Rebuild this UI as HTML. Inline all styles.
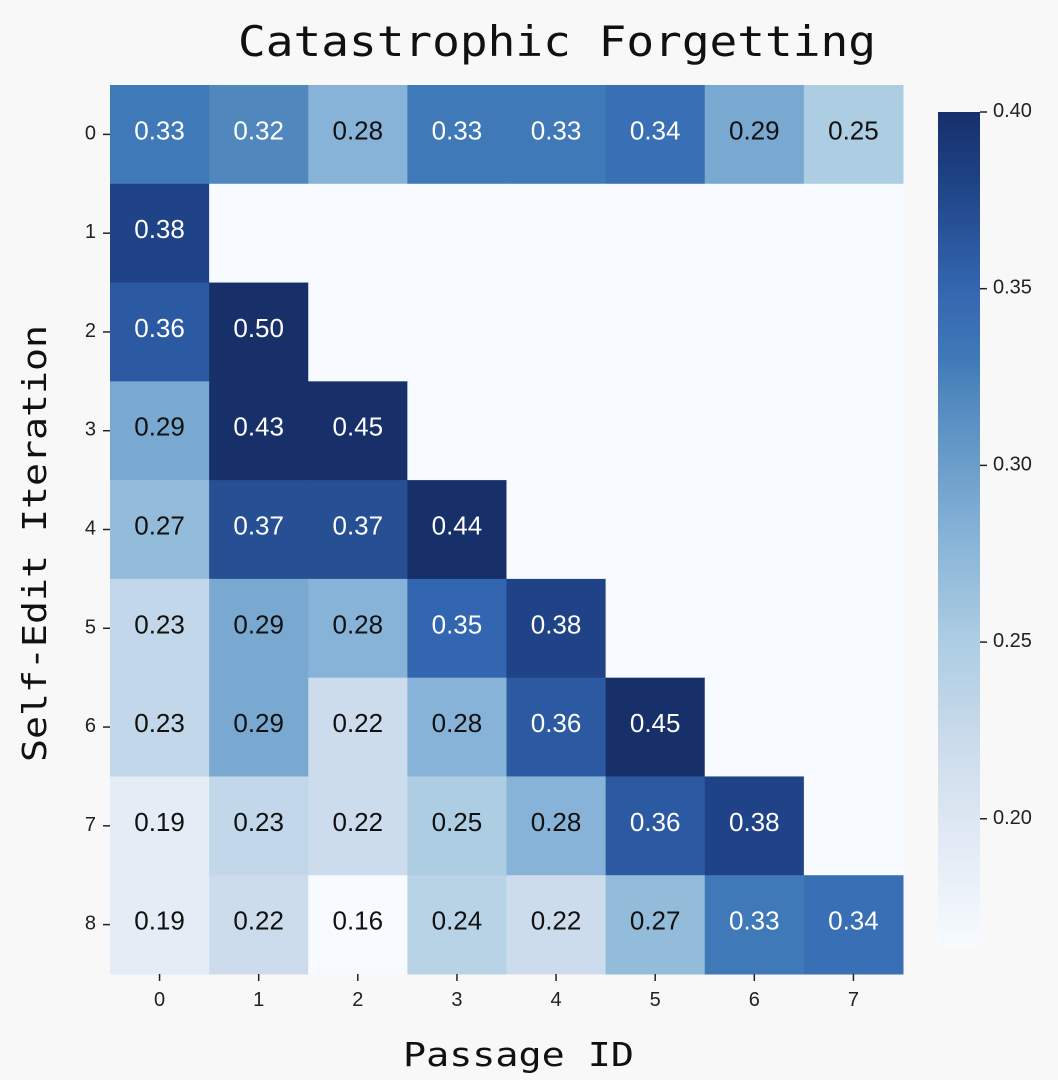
<!DOCTYPE html>
<html><head><meta charset="utf-8">
<style>
body{margin:0;background:#f8f8f8;}
svg{display:block;font-family:"Liberation Sans","DejaVu Sans",sans-serif;}
</style></head><body>
<svg id="chart" width="1058" height="1080">
<defs><linearGradient id="cbg" x1="0" y1="1" x2="0" y2="0"></linearGradient></defs>
<text x="238" y="56" textLength="638" lengthAdjust="spacingAndGlyphs" font-family="'DejaVu Sans Mono','Liberation Mono',monospace" font-size="42" fill="#111">Catastrophic Forgetting</text>
<text x="403" y="1066" textLength="231" lengthAdjust="spacingAndGlyphs" font-family="'DejaVu Sans Mono','Liberation Mono',monospace" font-size="33" fill="#111">Passage ID</text>
<text transform="translate(46,762) rotate(-90)" textLength="437" lengthAdjust="spacingAndGlyphs" font-family="'DejaVu Sans Mono','Liberation Mono',monospace" font-size="33" fill="#111">Self-Edit Iteration</text>
<g id="cells"></g><g id="xt"></g><g id="yt"></g><g id="cb"></g>
</svg>
<script>
const cols=["0","1","2","3","4","5","6","7"];
const rows=["0","1","2","3","4","5","6","7","8"];
const r0=[0.33,0.32,0.28,0.33,0.33,0.34,0.29,0.25];
const r1=[0.38,null,null,null,null,null,null,null];
const r2=[0.36,0.50,null,null,null,null,null,null];
const r3=[0.29,0.43,0.45,null,null,null,null,null];
const r4=[0.27,0.37,0.37,0.44,null,null,null,null];
const r5=[0.23,0.29,0.28,0.35,0.38,null,null,null];
const r6=[0.23,0.29,0.22,0.28,0.36,0.45,null,null];
const r7=[0.19,0.23,0.22,0.25,0.28,0.36,0.38,null];
const r8=[0.19,0.22,0.16,0.24,0.22,0.27,0.33,0.34];
const values=[r0,r1,r2,r3,r4,r5,r6,r7,r8];
const cbTicks=[0.20,0.25,0.30,0.35,0.40];
const vmin=0.164,vmax=0.40;
const NS="http://www.w3.org/2000/svg";
const X0=110,X1=903,Y0=85,Y1=974;
const cw=(X1-X0)/cols.length,rh=(Y1-Y0)/rows.length;
const xs=i=>X0+i*cw, ys=j=>Y0+j*rh;
const stopV=[0.164,0.19,0.22,0.25,0.28,0.32,0.33,0.35,0.38,0.40];
const stopC=["#f7fbff","#e4ecf6","#cddcec","#adcde3","#86b3d7","#5088be","#4079b8","#3366b0","#1f4386","#17306a"];
function hex(h){return [1,3,5].map(i=>parseInt(h.substr(i,2),16));}
function cmap(v){v=Math.max(vmin,Math.min(vmax,v));
 let i=0;while(i<stopV.length-2&&v>stopV[i+1])i++;
 const f=(v-stopV[i])/(stopV[i+1]-stopV[i]);
 const a=hex(stopC[i]),b=hex(stopC[i+1]);
 return "rgb("+a.map((c,k)=>Math.round(c+(b[k]-c)*f)).join(",")+")";}
function el(t,at,txt){const e=document.createElementNS(NS,t);for(const k in at)e.setAttribute(k,at[k]);if(txt!=null)e.textContent=txt;return e;}
const gc=document.getElementById("cells");
values.forEach((row,j)=>row.forEach((v,i)=>{
 const r=el("rect",{x:xs(i),y:ys(j),width:cw+0.5,height:rh+0.5,fill:v==null?stopC[0]:cmap(v)});
 
 
 gc.appendChild(r);
 if(v!=null){const t=el("text",{x:xs(i)+cw/2,y:ys(j)+rh/2+5,"text-anchor":"middle","font-size":"26",fill:v>0.30?"#fff":"#111"},v.toFixed(2));
 
 
 gc.appendChild(t);}
}));
const gx=document.getElementById("xt");
cols.forEach((c,i)=>{const x=xs(i)+cw/2;
 gx.appendChild(el("line",{x1:x,x2:x,y1:Y1,y2:Y1+7,stroke:"#222","stroke-width":1.5}));
 const t=el("text",{x:x,y:Y1+32,"text-anchor":"middle","font-size":"20",fill:"#222"},c);
 
 
 gx.appendChild(t);});
const gy=document.getElementById("yt");
rows.forEach((r,j)=>{const y=ys(j)+rh/2;
 gy.appendChild(el("line",{x1:X0-7,x2:X0,y1:y,y2:y,stroke:"#222","stroke-width":1.5}));
 const t=el("text",{x:X0-14,y:y+5,"text-anchor":"end","font-size":"20",fill:"#222"},r);
 
 
 gy.appendChild(t);});
const CB0=112,CB1=946,CX=938,CW=42;
const cy=v=>CB1-(v-vmin)/(vmax-vmin)*(CB1-CB0);
const gr=document.getElementById("cbg");
stopV.forEach((s,k)=>gr.appendChild(el("stop",{offset:(s-vmin)/(vmax-vmin),"stop-color":stopC[k]})));
const gb=document.getElementById("cb");
const bar=el("rect",{x:CX,y:CB0,width:CW,height:CB1-CB0,fill:"url(#cbg)"});


gb.appendChild(bar);
cbTicks.forEach(v=>{const y=cy(v);
 gb.appendChild(el("line",{x1:CX+CW,x2:CX+CW+7,y1:y,y2:y,stroke:"#222","stroke-width":1.5}));
 const t=el("text",{x:CX+CW+13,y:y+5,"font-size":"20",fill:"#222"},v.toFixed(2));
 
 
 gb.appendChild(t);});
</script>
</body></html>
